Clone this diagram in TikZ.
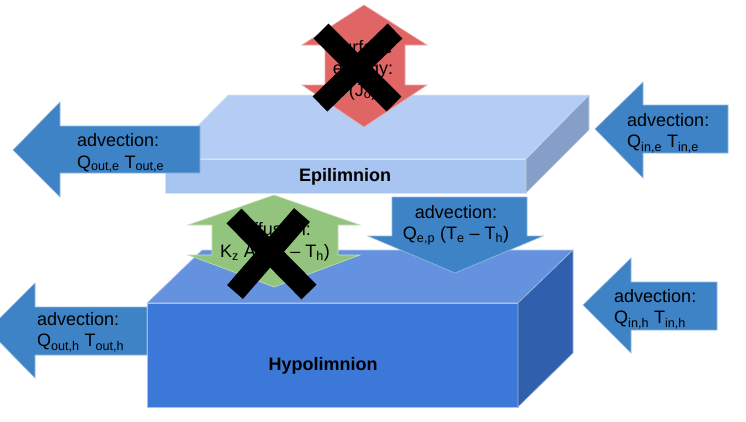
\documentclass[tikz,border=0pt]{standalone}
\usepackage{fontspec}
\setmainfont{Liberation Sans}
\usepackage{tikz}
\definecolor{epitop}{HTML}{B5CDF4}
\definecolor{epifront}{HTML}{A8C4F0}
\definecolor{episide}{HTML}{869FC8}
\definecolor{hypotop}{HTML}{6492DE}
\definecolor{hypofront}{HTML}{3C78D8}
\definecolor{hyposide}{HTML}{2F5FAD}
\definecolor{advblue}{HTML}{3D83C6}
\definecolor{surfred}{HTML}{E06666}
\definecolor{diffgreen}{HTML}{93C47D}

\begin{document}
\begin{tikzpicture}[x=1pt, y=-1pt,
		advarrow/.style={fill=advblue, draw=advblue!55!white, line width=0.6pt},
		face/.style={line width=0.6pt, draw=white!55!#1, fill=#1},
		lbl/.style={font=\fontsize{18}{21.5}\selectfont, inner sep=0pt, align=left},
		layer/.style={font=\fontsize{18}{21.5}\selectfont\bfseries, inner sep=0pt},
		cross/.style={line width=21pt, color=black}]
		%%%%% START %%%%%
		
		\useasboundingbox (0, 0) rectangle (746, 421);
		
		\draw[face=hypofront] (147, 303) rectangle (518, 407);
		\draw[face=hypotop] (147, 303) -- (202, 250) -- (573, 250) -- (518, 303) -- cycle;
		\draw[face=hyposide] (518, 303) -- (573, 250) -- (573, 353) -- (518, 407) -- cycle;
		\node[layer] (hypo) at (323, 366) {Hypolimnion};
		
		\draw[face=epifront] (165, 159) rectangle (526, 193);
		\draw[face=epitop] (165, 159) -- (228, 95) -- (589, 95) -- (526, 159) -- cycle;
		\draw[face=episide] (526, 159) -- (589, 95) -- (589, 130) -- (526, 193) -- cycle;
		\node[layer] (epi) at (345, 177) {Epilimnion};
		
		\draw[advarrow] (13, 150) -- (60, 102) -- (60, 126) -- (200, 126) -- (200, 173) -- (60, 173) -- (60, 197) -- cycle;
		\node[lbl, anchor=west] (outE) at (77, 153) {advection:\\Q\textsubscript{out,e} T\textsubscript{out,e}};
		
		\draw[advarrow] (595, 129) -- (643, 82) -- (643, 105) -- (728, 105) -- (728, 153) -- (643, 153) -- (643, 178) -- cycle;
		\node[lbl, anchor=west] (inE) at (627, 133) {advection:\\Q\textsubscript{in,e} T\textsubscript{in,e}};
		
		\draw[advarrow] (583, 305) -- (631, 258) -- (631, 282) -- (717, 282) -- (717, 330) -- (631, 330) -- (631, 353) -- cycle;
		\node[lbl, anchor=west] (inH) at (614, 309) {advection:\\Q\textsubscript{in,h} T\textsubscript{in,h}};
		
		\draw[advarrow] (-12, 330) -- (35, 283) -- (35, 307) -- (147, 307) -- (147, 355) -- (35, 355) -- (35, 378) -- cycle;
		\node[lbl, anchor=west] (outH) at (37, 332) {advection:\\Q\textsubscript{out,h} T\textsubscript{out,h}};
		
		\draw[advarrow] (392, 197) -- (527, 197) -- (527, 236) -- (543, 236) -- (455, 273) -- (368, 236) -- (392, 236) -- cycle;
		\node[lbl, align=center] (mix) at (456, 225) {advection:\\Q\textsubscript{e,p} (T\textsubscript{e} -- T\textsubscript{h})};
		
		\draw[fill=diffgreen, draw=diffgreen!55!white, line width=0.6pt] (274, 195) -- (360, 225) -- (338, 225) -- (338, 255) -- (360, 255) -- (274, 287) -- (188, 255) -- (212, 255) -- (212, 225) -- (188, 225) -- cycle;
		\node[lbl, align=center] (diff) at (275, 242) {diffusion:\\K\textsubscript{z} A (T\textsubscript{e} -- T\textsubscript{h})};
		
		\draw[fill=surfred, draw=surfred!55!white, line width=0.6pt] (364, 5) -- (427, 45) -- (405, 45) -- (405, 85) -- (427, 85) -- (364, 127) -- (302, 85) -- (325, 85) -- (325, 45) -- (302, 45) -- cycle;
		\node[lbl, align=center] (surf) at (363, 70) {surface\\energy:\\(J\textsubscript{o})};
		
		\draw[cross] (321, 31) -- (394, 104);
		\draw[cross] (395, 31) -- (320, 104);
		
		\draw[cross] (234, 216) -- (309, 292);
		\draw[cross] (302, 215) -- (235, 292);
		
		%%%%% END %%%%%
	\end{tikzpicture}
\end{document}
